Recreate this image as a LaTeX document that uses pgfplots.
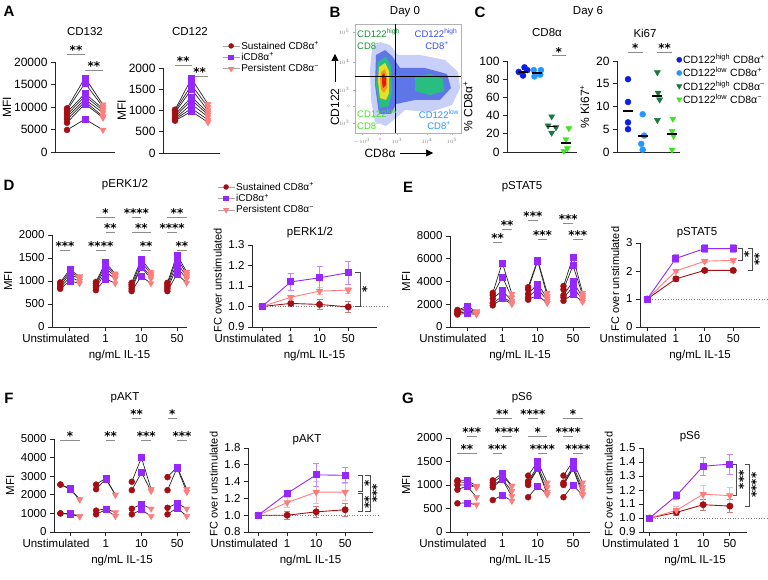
\documentclass[border=0pt]{standalone}
\usepackage{fontspec}
\setmainfont{Liberation Sans}
\newfontfamily\starfam{DejaVu Sans}
\usepackage{pgfplots}
\usepackage{pgfplotstable}
\pgfplotsset{compat=1.18}
\usetikzlibrary{arrows.meta}

\definecolor{sred}{RGB}{165,15,20}
\definecolor{spur}{RGB}{150,40,255}
\definecolor{spink}{RGB}{255,125,125}
\definecolor{cdb}{RGB}{10,30,235}
\definecolor{clb}{RGB}{40,150,255}
\definecolor{cdg}{RGB}{25,120,60}
\definecolor{clg}{RGB}{60,230,30}
\definecolor{fb1}{RGB}{200,208,248}
\definecolor{fb2}{RGB}{95,118,232}
\definecolor{fg}{RGB}{40,190,130}
\definecolor{fy}{RGB}{230,225,40}
\definecolor{fo}{RGB}{250,150,30}
\definecolor{fr}{RGB}{225,30,20}

\pgfdeclareplotmark{tridown}{%
  \pgfpathmoveto{\pgfqpoint{0pt}{-\pgfplotmarksize}}%
  \pgfpathlineto{\pgfqpoint{0.866\pgfplotmarksize}{0.5\pgfplotmarksize}}%
  \pgfpathlineto{\pgfqpoint{-0.866\pgfplotmarksize}{0.5\pgfplotmarksize}}%
  \pgfpathclose\pgfusepathqfillstroke}

\newcommand{\starf}{\fontsize{12}{12}\selectfont\starfam\bfseries}

\pgfplotsset{
  gp/.style={scale only axis, anchor=south west, axis lines=left,
    axis line style={-, line width=0.8pt, black!85},
    tick style={line width=0.8pt, black!85},
    major tick length=4pt, tick align=outside, clip=false,
    scaled y ticks=false, /pgf/number format/assume math mode=true,
    ticklabel style={font=\fontsize{11.5}{13}\selectfont},
    label style={font=\fontsize{11.5}{13}\selectfont},
    yticklabel style={/pgf/number format/fixed, /pgf/number format/1000 sep={}}},
  big/.style={ticklabel style={font=\fontsize{12}{14}\selectfont},
    label style={font=\fontsize{12}{14}\selectfont}, ylabel shift=-4pt},
  cats/.style={xtick={0,1,2,3}, xticklabels={{Unstimulated\hspace*{28pt}},1,10,50},
    xlabel={ng/mL IL-15}},
  grp/.style={gp, cats, ylabel={MFI}},
  fc/.style={gp, cats, ylabel={FC over unstimulated},
    ylabel style={font=\fontsize{11}{13}\selectfont, at={(ticklabel cs:0.57)}}},
  dec1/.style={yticklabel style={/pgf/number format/fixed zerofill, /pgf/number format/precision=1}},
  donor/.style={black!85, line width=0.7pt, no marks, unbounded coords=jump, forget plot},
  dots/.style={scatter, only marks, scatter src=explicit symbolic, forget plot,
    scatter/classes={r={mark=*, sred, mark size=3pt},
      p={mark=square*, spur, mark size=3pt},
      k={mark=tridown, spink, mark size=3.6pt}}},
  lgd/.style={legend style={draw=none, fill=none, inner sep=0pt, anchor=north west,
    font=\fontsize{10}{12}\selectfont, nodes={inner sep=1.2pt}, cells={anchor=west}}},
}

\newcommand{\donors}[2]{%
  \pgfplotsinvokeforeach{#2}{\addplot[donor] table[x=x,y=##1]{#1};}%
  \pgfplotsinvokeforeach{#2}{\addplot[dots] table[x=x,y=##1,meta=c]{#1};}%
}
\newcommand{\sig}[4]{\draw[black!45, line width=0.7pt] (axis cs:#1,#3) -- node[pos=0.5, anchor=base, inner sep=0pt, yshift=-0.5pt, font=\starf, text=black] {#4} (axis cs:#2,#3);}
\newcommand{\vsig}[5]{\draw[black!70, line width=0.7pt] (axis cs:#1,#3) -- (axis cs:#2,#3) -- node[pos=0.5, rotate=90, anchor=north, inner sep=1.5pt, font=\starf, text=black] {#5} (axis cs:#2,#4) -- (axis cs:#1,#4);}
\newcommand{\fcp}[4]{\addplot[#1, line width=0.9pt, mark=#2, mark size=#3, mark options={solid},
  error bars/.cd, y dir=both, y explicit,
  error bar style={#1!55, line width=0.8pt},
  error mark options={rotate=90, mark size=3pt, line width=0.8pt, #1!55}] coordinates {#4};}

% panel A
\pgfplotstableread{
x c d1 d2 d3 d4 d5 d6 d7 d8
0 r 4900 6500 7200 7800 8300 8800 9300 9700
1 p 7300 10700 11200 11700 12400 13000 15300 16500
2 k 4900 7600 7900 8700 9200 9600 10000 10500
}\tAa
\pgfplotstableread{
x c d1 d2 d3 d4 d5 d6 d7 d8
0 r 760 790 810 850 900 950 990 1020
1 p 980 1050 1150 1250 1320 1500 1600 1750
2 k 720 780 850 900 950 1000 1080 1150
}\tAb
% panel D, pERK1/2 MFI
\pgfplotstableread{
x c d1 d2 d3 d4 d5
-0.27 r 830 860 900 940 970
0 p 1000 1080 1150 1200 1250
0.27 k 950 1000 1050 1080 1100
0.5 r nan nan nan nan nan
0.73 r 800 850 900 940 980
1 p 1050 1200 1280 1350 1400
1.27 k 950 1050 1100 1130 1160
1.5 r nan nan nan nan nan
1.73 r 780 830 880 920 960
2 p 1100 1300 1330 1420 1480
2.27 k 950 1050 1100 1150 1200
2.5 r nan nan nan nan nan
2.73 r 780 830 870 920 960
3 p 1150 1300 1400 1500 1570
3.27 k 960 1050 1100 1150 1200
}\tD
% panel E, pSTAT5 MFI
\pgfplotstableread{
x c d1 d2 d3 d4 d5
-0.27 r 1100 1200 1300 1400 1500
0 p 1200 1350 1500 1650 1800
0.27 k 1100 1150 1200 1300 1400
0.5 r nan nan nan nan nan
0.73 r 1900 2100 2500 2800 3000
1 p 2500 2700 3200 4400 5650
1.27 k 2000 2100 2300 2600 2900
1.5 r nan nan nan nan nan
1.73 r 2400 2600 2900 3300 3500
2 p 2800 3400 3800 5800 5900
2.27 k 2100 2300 2500 2700 3000
2.5 r nan nan nan nan nan
2.73 r 2300 2600 2800 3300 3600
3 p 2900 3500 4000 5400 6150
3.27 k 2200 2400 2600 2800 3000
}\tE
% panel F, pAKT MFI
\pgfplotstableread{
x c d1 d2 d3 d4
-0.27 r 2550 2550 1000 1000
0 p 2300 2350 1000 950
0.27 k 1750 1750 850 830
0.5 r nan nan nan nan
0.73 r 2550 2300 1150 950
1 p 2900 2850 1250 1200
1.27 k 2000 2000 1050 850
1.5 r nan nan nan nan
1.73 r 2700 2250 1250 950
2 p 4000 3200 1500 1200
2.27 k 2300 2200 1250 850
2.5 r nan nan nan nan
2.73 r 2950 2250 1300 950
3 p 3500 3450 1550 1300
3.27 k 2300 2150 1250 850
}\tF
% panel G, pS6 MFI
\pgfplotstableread{
x c d1 d2 d3 d4 d5
-0.27 r 1100 1070 1000 900 610
0 p 1100 1050 1000 980 620
0.27 k 980 950 950 740 580
0.5 r nan nan nan nan nan
0.73 r 1100 1050 1000 950 680
1 p 1250 1200 1120 1120 780
1.27 k 980 980 870 760 660
1.5 r nan nan nan nan nan
1.73 r 1200 1080 1050 1000 740
2 p 1500 1400 1350 1350 980
2.27 k 1050 950 850 800 800
2.5 r nan nan nan nan nan
2.73 r 1200 1050 1020 1000 740
3 p 1500 1400 1350 1350 1000
3.27 k 1050 950 880 800 780
}\tG

\begin{document}
\begin{tikzpicture}[font=\fontsize{11.5}{13}\selectfont]
\useasboundingbox (0,0) rectangle (768pt,-580pt);

% ---------- A ----------
\begin{axis}[gp, big, at={(55pt,-152pt)}, width=60pt, height=90pt,
  xmin=-0.667, xmax=2.667, ymin=0, ymax=20000,
  ytick={0,5000,10000,15000,20000}, xtick=\empty, ylabel={MFI}]
\donors{\tAa}{d1,d2,d3,d4,d5,d6,d7,d8}
\sig{0}{1}{21800}{**}
\sig{1}{2}{18200}{**}
\end{axis}

\begin{axis}[gp, big, lgd, at={(163pt,-153pt)}, width=57pt, height=85pt,
  xmin=-0.73, xmax=2.73, ymin=0, ymax=2000,
  ytick={0,500,1000,1500,2000}, xtick=\empty, ylabel={MFI},
  legend style={at={(1.035,1.33)}}]
\addlegendimage{gray!70, line width=0.8pt, mark=*, mark size=2.3pt, mark options={sred}}
\addlegendentry{Sustained CD8α\textsuperscript{+}}
\addlegendimage{gray!70, line width=0.8pt, mark=square*, mark size=2.3pt, mark options={spur}}
\addlegendentry{iCD8α\textsuperscript{+}}
\addlegendimage{gray!70, line width=0.8pt, mark=tridown, mark size=2.8pt, mark options={spink}}
\addlegendentry{Persistent CD8α\textsuperscript{−}}
\donors{\tAb}{d1,d2,d3,d4,d5,d6,d7,d8}
\sig{0}{1}{2070}{**}
\sig{1}{2}{1812}{**}
\end{axis}

% ---------- B ----------
\begin{axis}[scale only axis, anchor=south west, at={(355pt,-133pt)}, width=106pt, height=109pt,
  xmin=0, xmax=106, ymin=0, ymax=109, clip=false,
  axis line style={gray!60, line width=0.6pt}, tick style={gray!60, line width=0.4pt},
  major tick length=2pt, tick align=outside, xtick pos=left, ytick pos=left,
  xtick={7,25,42,72,97}, xticklabels={$-10^3$,0,$10^3$,$10^4$,$10^5$},
  ytick={10,27,43,71,101}, yticklabels={$-10^3$,0,$10^3$,$10^4$,$10^5$},
  ticklabel style={font=\fontsize{3.5}{4}\selectfont, text=gray}]
\addplot[fill=fb1, draw=none] coordinates {(17,85) (25,91) (35,88) (43,78) (65,78) (90,73) (103,61) (105,45) (97,28) (75,21) (50,23) (41,15) (31,7) (20,11) (16,33) (15,63)} -- cycle;
\addplot[fill=fb2, draw=none] coordinates {(21,78) (30,83) (37,77) (45,65) (70,65) (92,59) (96,45) (85,33) (60,33) (41,29) (36,19) (24,19) (20,48)} -- cycle;
\addplot[fill=fg, draw=none] coordinates {(23,71) (31,76) (36,67) (37,41) (34,27) (25,25) (21,48)} -- cycle;
\addplot[fill=fg, draw=none] coordinates {(60,56) (75,59) (88,54) (89,42) (75,38) (60,42)} -- cycle;
\addplot[fill=fy, draw=none] coordinates {(24,66) (30,70) (34,62) (34,40) (31,33) (25,35) (23,52)} -- cycle;
\addplot[fill=fo, draw=none] coordinates {(26,61) (30,64) (32,57) (32,45) (29,40) (26,44) (25,54)} -- cycle;
\addplot[fill=fr, draw=none] coordinates {(27,58) (29,60) (31,55) (31,48) (28,45) (27,50)} -- cycle;
\addplot[black, line width=0.7pt] coordinates {(40,0) (40,109)};
\addplot[black, line width=0.7pt] coordinates {(0,57) (106,57)};
\end{axis}

% ---------- C ----------
\begin{axis}[gp, at={(507pt,-152pt)}, width=70pt, height=91pt,
  ticklabel style={font=\fontsize{12}{14}\selectfont}, label style={font=\fontsize{12}{14}\selectfont},
  xmin=-1.12, xmax=3.77, ymin=0, ymax=100,
  ytick={0,20,40,60,80,100}, xtick=\empty, ylabel={\% CD8α\textsuperscript{+}}]
\addplot[only marks, mark=*, cdb, mark size=3pt] coordinates {(-0.3,88) (0,84) (0.3,90) (0.1,93)};
\addplot[only marks, mark=*, clb, mark size=3pt] coordinates {(0.75,90) (1.25,90) (0.8,83) (1.2,85)};
\addplot[only marks, mark=tridown, cdg, mark size=3.5pt] coordinates {(2,39) (1.75,29) (2.3,27) (2,21)};
\addplot[only marks, mark=tridown, clg, mark size=3.5pt] coordinates {(3.2,26) (3,14) (3.1,4) (2.85,1)};
\addplot[only marks, mark=-, black, mark size=5pt, line width=1.6pt] coordinates {(0,88) (1,87) (2,28) (3,10)};
\sig{2}{3}{106}{*}
\end{axis}

\begin{axis}[gp, lgd, at={(617pt,-152pt)}, width=63pt, height=91pt,
  ticklabel style={font=\fontsize{12}{14}\selectfont}, label style={font=\fontsize{12}{14}\selectfont},
  xmin=-0.75, xmax=3.54, ymin=0, ymax=20,
  ytick={0,5,10,15,20}, xtick=\empty, ylabel={\% Ki67\textsuperscript{+}},
  legend style={at={(0.944,1.088)}, font=\fontsize{10.5}{12}\selectfont}]
\addlegendimage{only marks, mark=*, cdb, mark size=2.6pt}
\addlegendentry{CD122\textsuperscript{high} CD8α\textsuperscript{+}}
\addlegendimage{only marks, mark=*, clb, mark size=2.6pt}
\addlegendentry{CD122\textsuperscript{low} CD8α\textsuperscript{+}}
\addlegendimage{only marks, mark=tridown, cdg, mark size=3pt}
\addlegendentry{CD122\textsuperscript{high} CD8α\textsuperscript{−}}
\addlegendimage{only marks, mark=tridown, clg, mark size=3pt}
\addlegendentry{CD122\textsuperscript{low} CD8α\textsuperscript{−}}
\addplot[only marks, mark=*, cdb, mark size=3pt] coordinates {(0,16) (0,11) (0,6.5) (0,5)};
\addplot[only marks, mark=*, clb, mark size=3pt] coordinates {(1,8.3) (1.1,3.6) (0.9,1.8) (1,0.5)};
\addplot[only marks, mark=tridown, cdg, mark size=3.5pt] coordinates {(2,17.5) (2.05,13) (2.15,11.5) (2,7)};
\addplot[only marks, mark=tridown, clg, mark size=3.5pt] coordinates {(3.05,7.3) (3,4.6) (3.1,3.5) (3,0.5)};
\addplot[only marks, mark=-, black, mark size=5pt, line width=1.6pt] coordinates {(0,9) (1,3.5) (2,12.3) (3,4)};
\sig{0}{1}{22}{*}
\sig{2}{3}{22}{**}
\end{axis}

% ---------- D ----------
\begin{axis}[grp, lgd, at={(52pt,-327pt)}, width=135pt, height=92pt,
  xmin=-0.5, xmax=3.28, ymin=0, ymax=2000, ytick={0,500,1000,1500,2000},
  legend style={at={(1.222,1.587)}}]
\addlegendimage{gray!70, line width=0.8pt, mark=*, mark size=2.3pt, mark options={sred}}
\addlegendentry{Sustained CD8α\textsuperscript{+}}
\addlegendimage{gray!70, line width=0.8pt, mark=square*, mark size=2.3pt, mark options={spur}}
\addlegendentry{iCD8α\textsuperscript{+}}
\addlegendimage{gray!70, line width=0.8pt, mark=tridown, mark size=2.8pt, mark options={spink}}
\addlegendentry{Persistent CD8α\textsuperscript{−}}
\donors{\tD}{d1,d2,d3,d4,d5}
\sig{-0.27}{0}{1674}{***}
\sig{0.73}{1.27}{2391}{*}
\sig{1}{1.27}{2065}{**}
\sig{0.73}{1}{1674}{****}
\sig{1.73}{2}{2391}{****}
\sig{1.73}{2.27}{2065}{**}
\sig{2}{2.27}{1674}{**}
\sig{2.73}{3.27}{2391}{**}
\sig{2.73}{3}{2065}{****}
\sig{3}{3.27}{1674}{**}
\end{axis}

\begin{axis}[fc, dec1, at={(252pt,-327pt)}, width=125pt, height=82pt,
  xmin=-0.35, xmax=4.0, ymin=0.9, ymax=1.3, ytick={0.9,1,1.1,1.2,1.3}]
\addplot[gray, dotted, line width=0.6pt, forget plot] coordinates {(0,1) (4.4,1)};
\fcp{sred}{*}{3pt}{(0,1) +- (0,0) (1,1.015) +- (0,0.012) (2,1.01) +- (0,0.025) (3,0.998) +- (0,0.025)}
\fcp{spink}{tridown}{3.4pt}{(0,1) +- (0,0) (1,1.045) +- (0,0.008) (2,1.075) +- (0,0.018) (3,1.08) +- (0,0.015)}
\fcp{spur}{square*}{3pt}{(0,1) +- (0,0) (1,1.12) +- (0,0.04) (2,1.14) +- (0,0.055) (3,1.165) +- (0,0.055)}
\vsig{3.24}{3.41}{1.165}{1.0}{*}
\end{axis}

% ---------- E ----------
\begin{axis}[grp, at={(450pt,-327pt)}, width=140pt, height=91pt,
  xmin=-0.48, xmax=3.48, ymin=0, ymax=8000, ytick={0,2000,4000,6000,8000}]
\donors{\tE}{d1,d2,d3,d4,d5}
\sig{0.73}{1}{7473}{**}
\sig{1}{1.27}{8615}{**}
\sig{1.73}{2}{9407}{***}
\sig{2}{2.27}{7736}{***}
\sig{2.73}{3}{9143}{***}
\sig{3}{3.27}{7736}{***}
\end{axis}

\begin{axis}[fc, at={(640pt,-327pt)}, width=120pt, height=84pt,
  xmin=-0.25, xmax=3.93, ymin=0, ymax=3, ytick={0,1,2,3}]
\addplot[gray, dotted, line width=0.6pt, forget plot] coordinates {(0,1) (4.4,1)};
\fcp{sred}{*}{3pt}{(0,1) +- (0,0) (1,1.72) +- (0,0.1) (2,2.02) +- (0,0.08) (3,2.02) +- (0,0.08)}
\fcp{spink}{tridown}{3.4pt}{(0,1) +- (0,0) (1,2.0) +- (0,0.05) (2,2.35) +- (0,0.05) (3,2.38) +- (0,0.06)}
\fcp{spur}{square*}{3pt}{(0,1) +- (0,0) (1,2.45) +- (0,0.15) (2,2.8) +- (0,0.15) (3,2.8) +- (0,0.15)}
\vsig{3.15}{3.31}{2.8}{2.38}{*}
\vsig{3.5}{3.66}{2.8}{2.02}{**}
\end{axis}

% ---------- F ----------
\begin{axis}[grp, at={(54pt,-532pt)}, width=136pt, height=93pt,
  xmin=-0.45, xmax=3.36, ymin=0, ymax=5000, ytick={0,1000,2000,3000,4000,5000}]
\donors{\tF}{d1,d2,d3,d4}
\sig{-0.27}{0.27}{4946}{*}
\sig{1}{1.27}{4946}{**}
\sig{1.73}{2}{6129}{**}
\sig{2}{2.27}{4946}{***}
\sig{2.73}{3}{6129}{*}
\sig{3}{3.27}{4946}{***}
\end{axis}

\begin{axis}[fc, dec1, at={(248pt,-532pt)}, width=125pt, height=84pt,
  xmin=-0.35, xmax=3.96, ymin=0.8, ymax=1.8, ytick={0.8,1,1.2,1.4,1.6,1.8}]
\addplot[gray, dotted, line width=0.6pt, forget plot] coordinates {(0,1) (4.2,1)};
\fcp{sred}{*}{3pt}{(0,1) +- (0,0) (1,1.0) +- (0,0.05) (2,1.04) +- (0,0.07) (3,1.065) +- (0,0.08)}
\fcp{spink}{tridown}{3.4pt}{(0,1) +- (0,0) (1,1.15) +- (0,0.06) (2,1.275) +- (0,0.13) (3,1.275) +- (0,0.10)}
\fcp{spur}{square*}{3pt}{(0,1) +- (0,0) (1,1.26) +- (0,0.03) (2,1.48) +- (0,0.14) (3,1.475) +- (0,0.09)}
\vsig{3.45}{3.59}{1.48}{1.28}{*}
\vsig{3.45}{3.59}{1.265}{1.04}{**}
\vsig{3.7}{3.86}{1.48}{1.04}{***}
\end{axis}

% ---------- G ----------
\begin{axis}[grp, at={(450pt,-532pt)}, width=140pt, height=94pt,
  xmin=-0.48, xmax=3.48, ymin=0, ymax=2000, ytick={0,500,1000,1500,2000}]
\donors{\tG}{d1,d2,d3,d4,d5}
\sig{-0.27}{0.27}{1681}{**}
\sig{0}{0.27}{2043}{***}
\sig{0.73}{1}{1681}{***}
\sig{1}{1.27}{2043}{****}
\sig{0.73}{1.27}{2426}{**}
\sig{1.73}{2}{2426}{****}
\sig{1.73}{2.27}{2043}{*}
\sig{2}{2.27}{1681}{****}
\sig{2.73}{3.27}{2426}{*}
\sig{2.73}{3}{2043}{****}
\sig{3}{3.27}{1681}{****}
\end{axis}

\begin{axis}[fc, dec1, at={(643pt,-532pt)}, width=104pt, height=84pt,
  xmin=-0.25, xmax=3.64, ymin=0.9, ymax=1.5, ytick={0.9,1,1.1,1.2,1.3,1.4,1.5}]
\addplot[gray, dotted, line width=0.6pt, forget plot] coordinates {(0,1) (4.5,1)};
\fcp{sred}{*}{3pt}{(0,1) +- (0,0) (1,1.04) +- (0,0.02) (2,1.095) +- (0,0.04) (3,1.085) +- (0,0.045)}
\fcp{spink}{tridown}{3.4pt}{(0,1) +- (0,0) (1,1.055) +- (0,0.03) (2,1.17) +- (0,0.06) (3,1.16) +- (0,0.06)}
\fcp{spur}{square*}{3pt}{(0,1) +- (0,0) (1,1.16) +- (0,0.03) (2,1.37) +- (0,0.065) (3,1.385) +- (0,0.07)}
\vsig{3.13}{3.26}{1.385}{1.16}{***}
\vsig{3.55}{3.73}{1.385}{1.085}{****}
\end{axis}

% ---------- text ----------
\begin{scope}[font=\fontsize{15}{15}\selectfont\bfseries]
\node at (9pt,-11pt) {A};
\node at (335pt,-12pt) {B};
\node at (480pt,-12pt) {C};
\node at (9pt,-185pt) {D};
\node at (408pt,-187pt) {E};
\node at (9pt,-398pt) {F};
\node at (408pt,-398pt) {G};
\end{scope}
\node at (405pt,-12pt) {Day 0};
\node at (588pt,-12pt) {Day 6};
\node at (85pt,-32pt) {CD132};
\node at (190pt,-32pt) {CD122};
\node at (547pt,-33pt) {CD8α};
\node at (645pt,-33pt) {Ki67};
\node at (125pt,-185pt) {pERK1/2};
\node at (522pt,-187pt) {pSTAT5};
\node at (125pt,-398pt) {pAKT};
\node at (522pt,-398pt) {pS6};
\node at (310pt,-233pt) {pERK1/2};
\node at (697pt,-233pt) {pSTAT5};
\node at (307pt,-440pt) {pAKT};
\node at (690pt,-437pt) {pS6};
% flow axis labels
\node[rotate=90, font=\fontsize{12}{14}\selectfont] at (335pt,-107pt) {CD122};
\draw[-{Triangle[length=7pt,width=7pt]}, line width=0.6pt] (335pt,-82pt) -- (335pt,-54pt);
\node[font=\fontsize{12}{14}\selectfont] at (380pt,-153pt) {CD8α};
\draw[-{Triangle[length=7pt,width=7pt]}, line width=0.6pt] (400pt,-153pt) -- (433pt,-153pt);
\begin{scope}[font=\fontsize{9.5}{11}\selectfont, inner sep=0pt]
\node[anchor=west, text=cdg!80!green] at (357pt,-33pt) {CD122\textsuperscript{high}};
\node[anchor=west, text=cdg!80!green] at (357pt,-46pt) {CD8\textsuperscript{-}};
\node[text=cdb!80!white] at (436pt,-33pt) {CD122\textsuperscript{high}};
\node[text=cdb!80!white] at (437pt,-46pt) {CD8\textsuperscript{+}};
\node[anchor=west, text=clg] at (357pt,-113pt) {CD122\textsuperscript{low}};
\node[anchor=west, text=clg] at (357pt,-126pt) {CD8\textsuperscript{-}};
\node[text=clb] at (439pt,-114pt) {CD122\textsuperscript{low}};
\node[text=clb] at (439pt,-126pt) {CD8\textsuperscript{+}};
\end{scope}
\end{tikzpicture}
\end{document}
